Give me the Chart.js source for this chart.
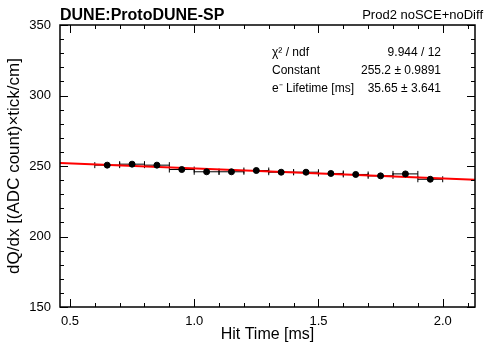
<!DOCTYPE html>
<html>
<head>
<meta charset="utf-8">
<script src="https://cdn.jsdelivr.net/npm/chart.js@4"></script>
<style>
  html, body { margin: 0; padding: 0; background: #fff; }
  #wrap { width: 491px; height: 345px; }
</style>
</head>
<body>
<div id="wrap"><canvas id="lifetimeChart" width="491" height="345"></canvas></div>
<script>
// data
const hitTime = [0.65, 0.75, 0.85, 0.95, 1.05, 1.15, 1.25, 1.35, 1.45, 1.55, 1.65, 1.75, 1.85, 1.95];
const dqdx    = [250.6, 251.3, 250.6, 247.5, 245.9, 245.9, 246.8, 245.6, 245.6, 244.7, 244.0, 243.0, 244.4, 240.6];
const timeErr = [0.05, 0.05, 0.05, 0.05, 0.05, 0.05, 0.05, 0.05, 0.05, 0.05, 0.05, 0.05, 0.05, 0.05];
const dqdxErr = [1.5, 1.5, 1.5, 1.5, 1.5, 1.5, 1.5, 1.5, 1.5, 1.5, 1.5, 1.5, 1.5, 1.5];
const fitTime = [0.46, 2.13];
const fitDqdx = [252.1, 240.2];
const xTickLabels = [0.5, 1.0, 1.5, 2.0];
const yTickLabels = [150, 200, 250, 300, 350];
const statNames  = ['\u03C7\u00B2 / ndf', 'Constant', 'e\u207B Lifetime [ms]'];
const statValues = ['9.944 / 12', '255.2 \u00B1 0.9891', '35.65 \u00B1 3.641'];

const FONT = 'Liberation Sans, Arial, Helvetica, sans-serif';

// error bars drawn under the markers
const errorBars = {
    id: 'errorBars',
    beforeDatasetsDraw(chart) {
        const ctx = chart.ctx, xs = chart.scales.x, ys = chart.scales.y;
        ctx.save();
        ctx.strokeStyle = '#000';
        ctx.lineWidth = 1;
        hitTime.forEach(function(t, i) {
            const x0 = xs.getPixelForValue(t - timeErr[i]);
            const x1 = xs.getPixelForValue(t + timeErr[i]);
            const xc = xs.getPixelForValue(t);
            const yc = ys.getPixelForValue(dqdx[i]);
            const y0 = ys.getPixelForValue(dqdx[i] - dqdxErr[i]);
            const y1 = ys.getPixelForValue(dqdx[i] + dqdxErr[i]);
            ctx.beginPath();
            ctx.moveTo(x0, yc); ctx.lineTo(x1, yc);
            ctx.moveTo(x0, yc - 3); ctx.lineTo(x0, yc + 3);
            ctx.moveTo(x1, yc - 3); ctx.lineTo(x1, yc + 3);
            ctx.moveTo(xc, y0); ctx.lineTo(xc, y1);
            ctx.stroke();
        });
        ctx.restore();
    }
};

// ROOT style frame, inward ticks on all four sides, header and stats text
const rootFrame = {
    id: 'rootFrame',
    afterDraw(chart) {
        const ctx = chart.ctx, a = chart.chartArea;
        const xs = chart.scales.x, ys = chart.scales.y;
        ctx.save();
        ctx.strokeStyle = '#000';
        ctx.lineWidth = 1;
        ctx.beginPath();
        for (let v = 0.5; v <= xs.max + 1e-9; v += 0.1) {
            const p = Math.round(xs.getPixelForValue(v)) + 0.5;
            const major = Math.abs(v * 2 - Math.round(v * 2)) < 1e-6;
            const len = major ? 8 : 4;
            ctx.moveTo(p, a.bottom); ctx.lineTo(p, a.bottom - len);
            ctx.moveTo(p, a.top); ctx.lineTo(p, a.top + len);
        }
        for (let v = 150; v <= 350; v += 10) {
            const p = Math.round(ys.getPixelForValue(v)) + 0.5;
            const len = (v % 50 === 0) ? 8 : 4;
            ctx.moveTo(a.left, p); ctx.lineTo(a.left + len, p);
            ctx.moveTo(a.right, p); ctx.lineTo(a.right - len, p);
        }
        ctx.stroke();
        ctx.lineWidth = 1.5;
        ctx.strokeRect(a.left, a.top, a.right - a.left, a.bottom - a.top);

        ctx.fillStyle = '#000';
        ctx.textBaseline = 'alphabetic';
        ctx.font = 'bold 16px ' + FONT;
        ctx.textAlign = 'left';
        ctx.fillText('DUNE:ProtoDUNE-SP', 60, 20);
        ctx.font = '13px ' + FONT;
        ctx.textAlign = 'right';
        ctx.fillText('Prod2 noSCE+noDiff', 483, 19);

        ctx.font = '12px ' + FONT;
        statNames.forEach(function(name, i) {
            const y = 56 + i * 18;
            ctx.textAlign = 'left';
            ctx.fillText(name, 272, y);
            ctx.textAlign = 'right';
            ctx.fillText(statValues[i], 441, y);
        });
        ctx.restore();
    }
};

const ctx = document.getElementById('lifetimeChart').getContext('2d');
new Chart(ctx, {
    type: 'scatter',
    data: {
        datasets: [{
            label: 'data',
            data: hitTime.map(function(t, i) { return { x: t, y: dqdx[i] }; }),
            backgroundColor: '#000',
            borderColor: '#000',
            pointRadius: 3,
            pointHoverRadius: 3,
            order: 1
        }, {
            type: 'line',
            label: 'fit',
            data: fitTime.map(function(t, i) { return { x: t, y: fitDqdx[i] }; }),
            borderColor: '#ff0000',
            borderWidth: 2,
            pointRadius: 0,
            fill: false,
            order: 2
        }]
    },
    options: {
        responsive: false,
        animation: false,
        events: [],
        layout: { padding: { left: 0, right: 16, top: 25, bottom: 0 } },
        plugins: { legend: { display: false }, tooltip: { enabled: false } },
        scales: {
            x: {
                type: 'linear',
                min: 0.46,
                max: 2.13,
                afterBuildTicks: function(scale) { scale.ticks = xTickLabels.map(function(v) { return { value: v }; }); },
                afterFit: function(scale) { scale.height = 38; },
                grid: { display: false, drawTicks: false },
                border: { display: false },
                ticks: {
                    color: '#000',
                    padding: 7,
                    maxRotation: 0,
                    autoSkip: false,
                    font: { family: FONT, size: 13 },
                    callback: function(v) { return v.toFixed(1); }
                },
                title: {
                    display: true,
                    text: 'Hit Time [ms]',
                    color: '#000',
                    padding: 1,
                    font: { family: FONT, size: 16 }
                }
            },
            y: {
                type: 'linear',
                min: 150,
                max: 350,
                afterBuildTicks: function(scale) { scale.ticks = yTickLabels.map(function(v) { return { value: v }; }); },
                afterFit: function(scale) { scale.width = 60; },
                grid: { display: false, drawTicks: false },
                border: { display: false },
                ticks: {
                    color: '#000',
                    padding: 9,
                    autoSkip: false,
                    font: { family: FONT, size: 13 }
                },
                title: {
                    display: true,
                    text: 'dQ/dx [(ADC count)\u00D7tick/cm]',
                    color: '#000',
                    padding: 4,
                    font: { family: FONT, size: 17 }
                }
            }
        }
    },
    plugins: [errorBars, rootFrame]
});
</script>
</body>
</html>
